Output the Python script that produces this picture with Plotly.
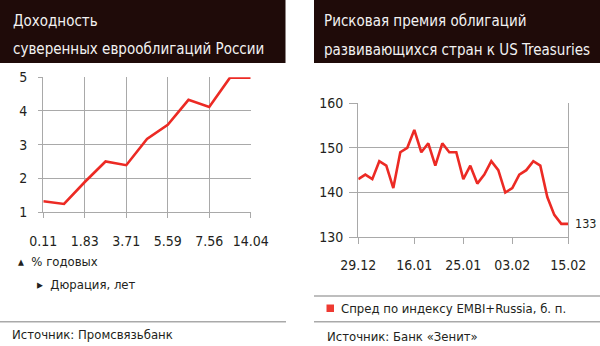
import plotly.graph_objects as go

# ---- data: left chart (yield curve of Russian sovereign eurobonds)
duration_tick_labels = ["0.11", "1.83", "3.71", "5.59", "7.56", "14.04"]
yield_values = [1.32, 1.24, 1.89, 2.50, 2.39, 3.17, 3.59, 4.33, 4.12, 4.99, 4.99]

# ---- data: right chart (EMBI+Russia spread, b.p.)
date_tick_labels = ["29.12", "16.01", "25.01", "03.02", "15.02"]
date_tick_index = [0, 8, 15, 22, 30]
spread_values = [143, 144, 143, 147, 146, 141, 149, 150, 154, 149, 151, 146, 151,
                 149, 149, 143, 146, 142, 144, 147, 145, 140, 141, 144, 145, 147,
                 146, 139, 135, 133, 133]

W, H = 600, 346
FONT = "DejaVu Sans Condensed"
RED = "#ec2a24"
GRID = "#a9a9a9"
TXT = "#231f20"
HDR = "#1f0b09"


def px(x):
    return x / W


def py(y):
    return 1 - y / H


fig = go.Figure()

left_x = list(range(len(yield_values)))
fig.add_trace(go.Scatter(x=left_x, y=yield_values, mode="lines",
                         line=dict(color=RED, width=2.6), cliponaxis=False,
                         xaxis="x", yaxis="y", showlegend=False, hoverinfo="skip"))

right_x = list(range(len(spread_values)))
fig.add_trace(go.Scatter(x=right_x, y=spread_values, mode="lines",
                         line=dict(color=RED, width=2.6), cliponaxis=False,
                         xaxis="x2", yaxis="y2", showlegend=False, hoverinfo="skip"))

tickfont = dict(family=FONT, size=14, color=TXT)

fig.update_layout(
    width=W, height=H, margin=dict(l=0, r=0, t=0, b=0, autoexpand=False),
    paper_bgcolor="white", plot_bgcolor="white",
    xaxis=dict(domain=[px(43.3), px(250.7)], anchor="y", range=[0, len(yield_values) - 1],
               tickmode="array", tickvals=left_x[::2], ticktext=duration_tick_labels,
               showgrid=True, gridcolor=GRID, gridwidth=1.3,
               showline=True, linecolor=GRID, linewidth=1.3,
               ticks="outside", ticklen=5, tickcolor=GRID, tickwidth=1.3,
               ticklabelstandoff=11, tickfont=tickfont, zeroline=False, automargin=False),
    yaxis=dict(domain=[py(212), py(77.3)], anchor="x", range=[1, 5],
               tickmode="array", tickvals=[1, 2, 3, 4, 5],
               showgrid=True, gridcolor=GRID, gridwidth=1.3,
               showline=True, linecolor=GRID, linewidth=1.3,
               ticks="outside", ticklen=4, tickcolor=GRID, tickwidth=1.3,
               ticklabelstandoff=8, tickfont=tickfont, zeroline=False, automargin=False),
    xaxis2=dict(domain=[px(358.3), px(568.3)], anchor="y2", range=[0, len(spread_values) - 1],
                tickmode="array", tickvals=date_tick_index, ticktext=date_tick_labels,
                showgrid=False,
                showline=True, linecolor=GRID, linewidth=1.3,
                ticks="outside", ticklen=6, tickcolor=GRID, tickwidth=1.3,
                ticklabelstandoff=9, tickfont=tickfont, zeroline=False, automargin=False),
    yaxis2=dict(domain=[py(237.3), py(103)], anchor="x2", range=[130, 160],
                tickmode="array", tickvals=[130, 140, 150, 160],
                showgrid=True, gridcolor=GRID, gridwidth=1.3,
                showline=True, linecolor=GRID, linewidth=1.3, mirror=True,
                ticks="outside", ticklen=8, tickcolor=GRID, tickwidth=1.3,
                ticklabelstandoff=3, tickfont=tickfont, zeroline=False, automargin=False),
)

shapes = [
    dict(type="rect", xref="paper", yref="paper", x0=px(0), x1=px(285.5), y0=py(63), y1=py(0),
         fillcolor=HDR, line=dict(width=0), layer="below"),
    dict(type="rect", xref="paper", yref="paper", x0=px(314), x1=px(600), y0=py(63), y1=py(0),
         fillcolor=HDR, line=dict(width=0), layer="below"),
    dict(type="line", xref="paper", yref="paper", x0=px(0), x1=px(286), y0=py(321.7), y1=py(321.7),
         line=dict(color=GRID, width=1.5)),
    dict(type="line", xref="paper", yref="paper", x0=px(314), x1=px(600), y0=py(296), y1=py(296),
         line=dict(color=GRID, width=1.5)),
    dict(type="line", xref="paper", yref="paper", x0=px(314), x1=px(600), y0=py(321.7), y1=py(321.7),
         line=dict(color=GRID, width=1.5)),
    dict(type="rect", xref="paper", yref="paper", x0=px(326.5), x1=px(334), y0=py(312), y1=py(304.5),
         fillcolor="#ee3a32", line=dict(width=0)),
]


def txt(x, y, s, size=13, color=TXT, anchor="left"):
    return dict(xref="paper", yref="paper", x=px(x), y=py(y), text=s, showarrow=False,
                xanchor=anchor, yanchor="middle", font=dict(family=FONT, size=size, color=color))


annotations = [
    txt(11, 20.5, "Доходность", 15, "#f2f2f2"),
    txt(11, 48.5, "суверенных еврооблигаций России", 15, "#f2f2f2"),
    txt(322, 21.5, "Рисковая премия облигаций", 15, "#f2f2f2"),
    txt(322, 49.5, "развивающихся стран к US Treasuries", 15, "#f2f2f2"),
    txt(16, 261.5, "▴ &nbsp;% годовых", 13),
    txt(35, 284.5, "▸ &nbsp;Дюрация, лет", 13),
    txt(10, 334, "Источник: Промсвязьбанк", 13),
    txt(339, 308.5, "Спред по индексу EMBI+Russia, б. п.", 13),
    txt(325, 336, "Источник: Банк «Зенит»", 13),
    dict(xref="x2", yref="y2", x=right_x[-1], y=spread_values[-1], text=str(spread_values[-1]),
         showarrow=False, xanchor="left", yanchor="middle", xshift=5,
         font=dict(family=FONT, size=12.5, color=TXT)),
]

fig.update_layout(shapes=shapes, annotations=annotations)
fig.write_html("out.html")
